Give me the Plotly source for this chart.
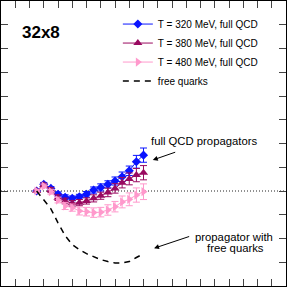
import plotly.graph_objects as go

# data (in axis tick units)
x = [2.5, 3.0, 3.5, 4.0, 4.5, 5.0, 5.5, 6.0, 6.5, 7.0, 7.5, 8.0, 8.5, 9.0, 9.5, 10.0]
y320 = [0.0, 0.28, 0.11, -0.14, -0.26, -0.31, -0.24, -0.14, 0.04, 0.15, 0.28, 0.42, 0.60, 0.85, 1.23, 1.51]
e320 = [0.05, 0.08, 0.08, 0.10, 0.10, 0.10, 0.10, 0.12, 0.13, 0.15, 0.15, 0.17, 0.20, 0.20, 0.27, 0.30]
y380 = [0.0, 0.25, 0.04, -0.28, -0.42, -0.52, -0.49, -0.42, -0.31, -0.20, -0.06, 0.11, 0.35, 0.51, 0.67, 0.77]
e380 = [0.05, 0.08, 0.10, 0.12, 0.12, 0.12, 0.13, 0.13, 0.15, 0.15, 0.18, 0.20, 0.22, 0.25, 0.28, 0.30]
y480 = [0.0, 0.21, -0.03, -0.38, -0.63, -0.70, -0.84, -0.87, -0.91, -0.89, -0.80, -0.66, -0.46, -0.35, -0.17, -0.03]
e480 = [0.05, 0.08, 0.10, 0.12, 0.15, 0.15, 0.17, 0.18, 0.20, 0.20, 0.22, 0.22, 0.25, 0.27, 0.30, 0.33]
yfree = [0.0, -0.38, -0.75, -1.34, -1.88, -2.26, -2.47, -2.64, -2.76, -2.89, -2.97, -3.03, -3.03, -2.97, -2.80, -2.64]

names = ["T = 320 MeV, full QCD", "T = 380 MeV, full QCD", "T = 480 MeV, full QCD", "free quarks"]
colors = ["#0a14ff", "#990a60", "#ff99cc"]
symbols = ["diamond", "triangle-up", "triangle-right"]
sizes = [7, 8, 8]

FONT = "Liberation Sans, Arial, Helvetica, sans-serif"

fig = go.Figure()
for ys, es, nm, c, s, sz in zip([y320, y380, y480], [e320, e380, e480], names[:3], colors, symbols, sizes):
    fig.add_trace(go.Scatter(
        x=x, y=ys, name=nm, mode="lines+markers",
        line=dict(color=c, width=1),
        marker=dict(symbol=s, size=sz, color=c),
        error_y=dict(type="data", array=es, color=c, thickness=1, width=3.5),
    ))
fig.add_trace(go.Scatter(
    x=x, y=yfree, name=names[3], mode="lines",
    line=dict(color="black", width=1.5, dash="6px,5px"),
))

# dotted zero line
fig.add_shape(type="line", xref="paper", x0=0, x1=1, yref="y", y0=0, y1=0,
              line=dict(color="#222222", width=1, dash="1px,2px"), layer="below")

ann_font = dict(family=FONT, size=11.3, color="black")
fig.add_annotation(x=2.81, y=6.69, text="<b>32x8</b>", showarrow=False,
                   font=dict(family=FONT, size=17, color="black"))
fig.add_annotation(x=14.27, y=2.105, text="full QCD propagators", showarrow=False, font=ann_font)
fig.add_annotation(x=16.36, y=-1.95, text="propagator with", showarrow=False, font=ann_font)
fig.add_annotation(x=16.49, y=-2.41, text="free quarks", showarrow=False, font=ann_font)
fig.add_annotation(x=10.65, y=1.305, ax=12.33, ay=1.655, axref="x", ayref="y", text="",
                   showarrow=True, arrowhead=2, arrowsize=1, arrowwidth=1, arrowcolor="black", standoff=0)
fig.add_annotation(x=10.74, y=-2.41, ax=13.31, ay=-1.895, axref="x", ayref="y", text="",
                   showarrow=True, arrowhead=2, arrowsize=1, arrowwidth=1, arrowcolor="black", standoff=0)

axis_common = dict(showline=True, linecolor="black", linewidth=1, mirror="ticks",
                   ticks="inside", ticklen=7, tickcolor="#444444", tickwidth=1,
                   showticklabels=False, showgrid=False, zeroline=False)
fig.update_xaxes(range=[0, 20], dtick=1, tick0=0, **axis_common)
fig.update_yaxes(range=[-4, 8], dtick=1, tick0=0, **axis_common)

fig.update_layout(
    width=288, height=288,
    margin=dict(l=1, r=2, t=1, b=2),
    paper_bgcolor="white", plot_bgcolor="white",
    font=dict(family=FONT, color="black"),
    legend=dict(x=0.41, y=0.97, xanchor="left", yanchor="top",
                font=dict(family=FONT, size=10, color="black"),
                bgcolor="rgba(0,0,0,0)", borderwidth=0, itemwidth=30),
    showlegend=True,
)

fig.write_html("out.html", config={"displayModeBar": False},
               post_script="document.body.style.margin='0';")
